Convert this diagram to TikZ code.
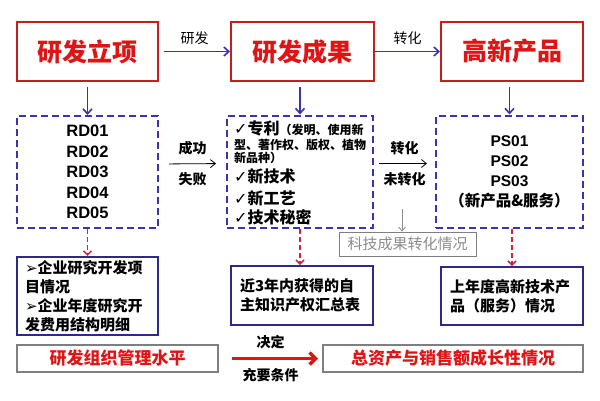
\documentclass[tikz,border=0pt]{standalone}
\usepackage{fontspec}
\setmainfont{Liberation Sans}
\newfontfamily\cjk{Noto Sans CJK SC}
\newfontfamily\sym{DejaVu Sans}
\usepackage{tikz}
\usetikzlibrary{arrows.meta,positioning}
\definecolor{TitleRed}{HTML}{E01414}
\definecolor{FrameRed}{HTML}{C41E1E}
\definecolor{LineBlue}{HTML}{3A32B0}
\definecolor{FrameGray}{HTML}{7F7F7F}
\definecolor{NoteGray}{HTML}{8C8C8C}
\definecolor{DashRed}{HTML}{C8283C}

\begin{document}
\begin{tikzpicture}[
  x=1pt, y=-1pt,
  titlebox/.style={draw=FrameRed,line width=2pt,minimum height=59pt,text=TitleRed,
    font=\cjk\bfseries\fontsize{25}{25}\selectfont},
  dashbox/.style={draw=LineBlue,line width=2pt,dash pattern=on 7pt off 4pt,minimum height=112pt},
  infobox/.style={draw=LineBlue!80!black,line width=2pt,align=left,
    font=\cjk\bfseries\fontsize{15}{19}\selectfont},
  graybox/.style={draw=FrameGray,line width=2pt,minimum height=27pt,text=TitleRed,
    font=\cjk\bfseries\fontsize{17}{17}\selectfont},
  notebox/.style={draw=FrameGray,line width=0.8pt,minimum width=137pt,minimum height=24pt,
    text=NoteGray,font=\cjk\fontsize{15}{15}\selectfont},
  lab/.style={font=\cjk\bfseries\fontsize{14}{14}\selectfont},
  item/.style={anchor=west,inner sep=0pt,font=\cjk\bfseries\fontsize{16}{16}\selectfont},
  bluearrow/.style={-{Straight Barb[length=5pt,width=9pt]},draw=LineBlue,line width=1.6pt},
  thinarrow/.style={-{Straight Barb[length=5pt,width=8pt]},line width=0.8pt},
  grayarrow/.style={-{Straight Barb[length=4pt,width=7pt]},draw=NoteGray,line width=0.8pt},
  reddash/.style={-{Straight Barb[length=4pt,width=8pt]},draw=DashRed,line width=1.5pt,
    dash pattern=on 5pt off 3pt},
  redarrow/.style={-{Straight Barb[length=6pt,width=12pt]},draw=TitleRed,line width=3.5pt}
]
  \fill[white] (0,0) rectangle (600,400);
  \useasboundingbox (0,0) rectangle (600,400);

  % top row
  \node[titlebox, minimum width=141pt] (plan) at (87.5,51.5) {研发立项};
  \node[titlebox, minimum width=143pt] (result) at (302.5,51.5) {研发成果};
  \node[titlebox, minimum width=142pt] (product) at (512,51.5) {高新产品};

  \draw[bluearrow, shorten <=5pt] (plan) -- node[lab, above=3pt, font=\cjk\fontsize{14}{14}\selectfont]{研发} (result);
  \draw[bluearrow] (result) -- node[lab, above=3pt, font=\cjk\fontsize{14}{14}\selectfont]{转化} (product);

  % dashed boxes
  \node[dashbox, minimum width=141pt, align=center,
    font=\bfseries\fontsize{16.5}{20.5}\selectfont] (rdlist) at (87.5,172) {RD01\\RD02\\RD03\\RD04\\RD05};
  \node[dashbox, minimum width=146pt] (patbox) at (300,171.5) {};
  \node[dashbox, minimum width=147pt, align=center,
    font=\bfseries\fontsize{15.5}{20}\selectfont] (pslist) at (509.5,171.5) {PS01\\PS02\\PS03\\{\cjk （新产品\&服务）}};

  \node[item] (patent) at (234,128) {{\sym\fontsize{16}{16}\selectfont ✓}专利{\fontsize{12}{12}\selectfont（发明、使用新}};
  \node[item, font=\cjk\bfseries\fontsize{12}{12}\selectfont] (patentb) at (234,145) {型、著作权、版权、植物};
  \node[item, font=\cjk\bfseries\fontsize{12}{12}\selectfont] (patentc) at (234,158) {新品种）};
  \node[item] (tech) at (234,176) {{\sym\fontsize{16}{16}\selectfont ✓}新技术};
  \node[item] (craft) at (234,198) {{\sym\fontsize{16}{16}\selectfont ✓}新工艺};
  \node[item] (secret) at (234,217) {{\sym\fontsize{16}{16}\selectfont ✓}技术秘密};

  \draw[bluearrow, shorten <=5pt] (plan.south) -- (rdlist.north);
  \draw[bluearrow, shorten <=5pt] (patbox.north |- result.south) -- (patbox.north);
  \draw[bluearrow, shorten <=5pt] (pslist.north |- product.south) -- (pslist.north);

  \draw[thinarrow, shorten <=10pt, shorten >=10pt] ([yshift=8pt]rdlist.east) -- node[lab, above=5pt]{成功} node[lab, below=5pt]{失败} ([yshift=8pt]patbox.west);
  \draw[thinarrow, shorten <=5pt, shorten >=8pt] ([yshift=8pt]patbox.east) -- node[lab, above=5pt]{转化} node[lab, below=5pt]{未转化} ([yshift=8pt]pslist.west);

  % note
  \node[notebox] (note) at (407.5,244) {科技成果转化情况};
  \coordinate (notesrc) at (402,209);
  \draw[grayarrow] (notesrc) -- (notesrc |- note.north);

  % info boxes
  \node[infobox, minimum width=141pt, minimum height=78pt, text width=125pt] (rdinfo) at (87.5,296)
    {{\sym\fontsize{15}{15}\selectfont ➢}企业研究开发项\\目情况\\{\sym\fontsize{15}{15}\selectfont ➢}企业年度研究开\\发费用结构明细};
  \node[infobox, minimum width=142pt, minimum height=59pt, text width=124pt] (ipinfo) at (302,295.5)
    {近3年内获得的自\\主知识产权汇总表};
  \node[infobox, minimum width=142pt, minimum height=58pt, text width=124pt] (hpinfo) at (512,296)
    {上年度高新技术产\\品（服务）情况};

  \draw[reddash] (rdlist.south) -- (rdinfo.north);
  \draw[reddash] (patbox.south) -- (patbox.south |- ipinfo.north);
  \draw[reddash] (hpinfo.north |- pslist.south) -- (hpinfo.north);

  % bottom row
  \node[graybox, minimum width=201pt] (orglevel) at (117.5,358.5) {研发组织管理水平};
  \node[graybox, minimum width=260pt] (growth) at (453,358.5) {总资产与销售额成长性情况};
  \draw[redarrow, shorten <=13pt, shorten >=4pt] (orglevel.east) -- node[lab, above=5pt]{决定} node[lab, below=5pt]{充要条件} (growth.west);
\end{tikzpicture}
\end{document}
